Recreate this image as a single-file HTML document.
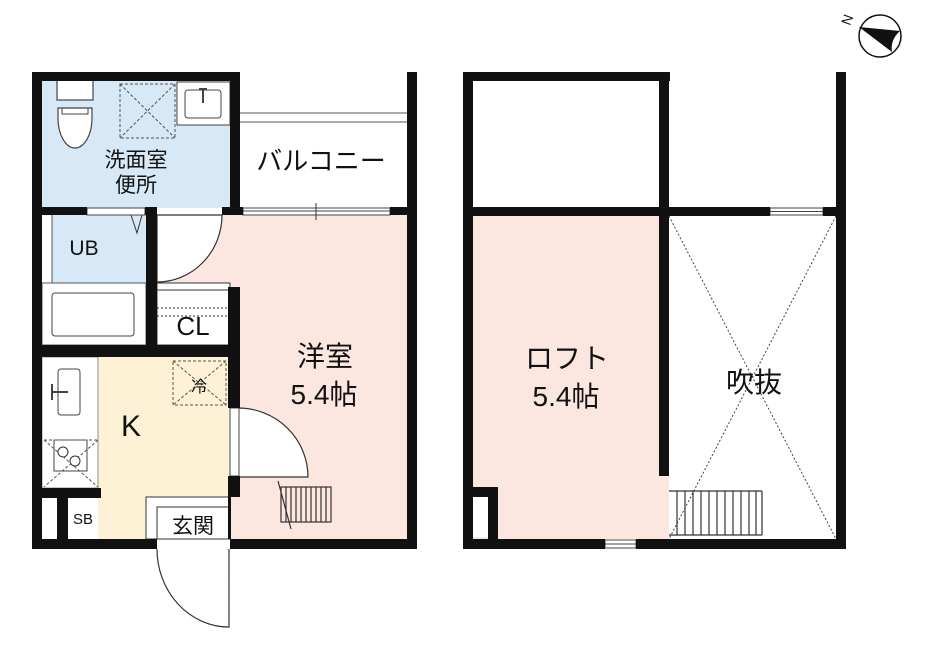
<!DOCTYPE html>
<html><head><meta charset="utf-8"><style>
html,body{margin:0;padding:0;background:#fff;}
svg{display:block}
text{font-family:"Liberation Sans","Noto Sans CJK JP",sans-serif;fill:#111;}
</style></head><body>
<svg width="926" height="648" viewBox="0 0 926 648" xmlns="http://www.w3.org/2000/svg">
<rect x="42" y="80" width="188" height="128" fill="#d7e9f6"/>
<rect x="52" y="215" width="94" height="68" fill="#d7e9f6"/>
<rect x="157" y="215" width="250" height="324" fill="#fce6e0"/>
<rect x="98" y="357" width="132" height="182" fill="#fdf2d5"/>
<path d="M157 215 L222 215 A65 67 0 0 1 157 282 Z" fill="#fff" stroke="#333" stroke-width="1.2"/>
<rect x="157" y="283" width="73" height="62" fill="#fff" stroke="#333" stroke-width="1"/>
<line x1="157" y1="290" x2="230" y2="290" stroke="#333"/>
<line x1="157" y1="308" x2="230" y2="308" stroke="#333" stroke-dasharray="2,2"/>
<line x1="157" y1="316" x2="230" y2="316" stroke="#333" stroke-dasharray="2,2"/>
<line x1="240" y1="113" x2="407" y2="113" stroke="#555"/>
<line x1="240" y1="122" x2="407" y2="122" stroke="#555"/>
<rect x="57" y="80" width="36" height="20" fill="#fff" stroke="#444" stroke-width="1.2"/>
<path d="M58 108 L92 108 L92 118 A17 30 0 0 1 58 118 Z" fill="#fff" stroke="#444" stroke-width="1.2"/>
<path d="M62 108 L62 114 L88 114 L88 108" fill="none" stroke="#444"/>
<rect x="120" y="84" width="55" height="54" fill="none" stroke="#555" stroke-dasharray="3,2"/>
<line x1="120" y1="84" x2="175" y2="138" stroke="#555" stroke-dasharray="3,2"/>
<line x1="175" y1="84" x2="120" y2="138" stroke="#555" stroke-dasharray="3,2"/>
<rect x="177" y="82" width="53" height="43" fill="#fff" stroke="#444"/>
<rect x="185" y="90" width="36" height="28" rx="3" fill="#fff" stroke="#444"/>
<line x1="199" y1="89" x2="207" y2="89" stroke="#444" stroke-width="2"/><line x1="203" y1="89" x2="203" y2="103" stroke="#444" stroke-width="2"/>
<line x1="52" y1="215" x2="52" y2="283" stroke="#555"/>
<path d="M131 215 L137 233 L142 215" fill="none" stroke="#333"/>
<rect x="42" y="283" width="104" height="62" fill="#fff" stroke="#555"/>
<rect x="52" y="293" width="82" height="43" rx="3" fill="#fff" stroke="#444"/>
<rect x="42" y="357" width="56" height="131" fill="#fff" stroke="#777" stroke-width="0.8"/>
<rect x="58" y="369" width="22" height="46" rx="3" fill="#fff" stroke="#444"/>
<path d="M52 384 L52 400 M52 392 L68 392" stroke="#444" stroke-width="2"/>
<rect x="54" y="440" width="33" height="31" fill="#fff" stroke="#444"/>
<path d="M44 440 L98 487 M98 440 L44 487" stroke="#555" stroke-dasharray="3,2"/>
<line x1="44" y1="440" x2="98" y2="440" stroke="#555" stroke-dasharray="3,2"/>
<circle cx="63" cy="452" r="5" fill="#fff" stroke="#333"/><circle cx="75" cy="461" r="5" fill="#fff" stroke="#333"/>
<rect x="173" y="361" width="53" height="44" fill="none" stroke="#555" stroke-dasharray="3,2"/>
<path d="M173 361 L226 405 M226 361 L173 405" stroke="#555" stroke-dasharray="3,2"/>
<rect x="146" y="497" width="84" height="42" fill="#fff" stroke="#333"/>
<rect x="157" y="507" width="73" height="32" fill="#fff" stroke="#333"/>
<path d="M157 549 A72 78 0 0 0 229 627 L229 549" fill="#fff" stroke="#333" stroke-width="1.2"/>
<path d="M238 477 L238 408 A70 69 0 0 1 308 477 Z" fill="#fff" stroke="#333" stroke-width="1.2"/>
<rect x="230" y="408" width="9" height="68" fill="#fff" stroke="#444"/>
<g stroke="#333" stroke-width="1.2" fill="none">
<rect x="281" y="487" width="50" height="35"/>
<path d="M286 487v35M291 487v35M296 487v35M301 487v35M306 487v35M311 487v35M316 487v35M321 487v35M326 487v35"/>
<line x1="278" y1="481" x2="291" y2="529"/>
</g>
<rect x="243" y="208" width="147" height="7" fill="#fff" stroke="#444"/>
<line x1="243" y1="211" x2="390" y2="211" stroke="#444"/>
<line x1="316" y1="203" x2="316" y2="220" stroke="#333"/>
<rect x="87" y="208" width="58" height="7" fill="#fff" stroke="#444"/>
<g fill="#111">
<rect x="32" y="72" width="208" height="9"/>
<rect x="32" y="72" width="10" height="477"/>
<rect x="32" y="539" width="125" height="10"/>
<rect x="230" y="539" width="187" height="10"/>
<rect x="407" y="72" width="10" height="477"/>
<rect x="230" y="72" width="10" height="143"/>
<rect x="42" y="207" width="45" height="8"/>
<rect x="145" y="207" width="12" height="8"/>
<rect x="222" y="207" width="21" height="8"/>
<rect x="390" y="207" width="17" height="8"/>
<rect x="146" y="207" width="11" height="150"/>
<rect x="32" y="345" width="208" height="12"/>
<rect x="228" y="287" width="12" height="121"/>
<rect x="228" y="476" width="12" height="21"/>
<rect x="228" y="497" width="3" height="42"/>
<rect x="42" y="488" width="59" height="10"/>
<rect x="57" y="498" width="11" height="41"/>
</g>
<text x="136" y="167" font-size="21" text-anchor="middle">洗面室</text>
<text x="136" y="192" font-size="21" text-anchor="middle">便所</text>
<text x="321" y="170" font-size="26" text-anchor="middle">バルコニー</text>
<text x="84" y="255" font-size="21" text-anchor="middle">UB</text>
<text x="193" y="335" font-size="26" text-anchor="middle">CL</text>
<text x="199" y="392" font-size="16" text-anchor="middle">冷</text>
<text x="131" y="436" font-size="30" text-anchor="middle">K</text>
<text x="83" y="524" font-size="15" text-anchor="middle">SB</text>
<text x="193" y="533" font-size="21" text-anchor="middle">玄関</text>
<text x="325" y="366" font-size="28" text-anchor="middle">洋室</text>
<text x="324" y="404" font-size="28" text-anchor="middle">5.4帖</text>
<rect x="473" y="216" width="186" height="323" fill="#fce6e0"/>
<rect x="659" y="476" width="10" height="63" fill="#fce6e0"/>
<g stroke="#444" stroke-width="1" stroke-dasharray="2,2">
<line x1="669" y1="216" x2="836" y2="539"/>
<line x1="836" y1="216" x2="669" y2="539"/>
</g>
<g stroke="#333" stroke-width="1.2" fill="none">
<path d="M669 491 H762 M669 535 H762 M762 491 V535"/>
<path d="M677 491v44M685 491v44M693 491v44M701 491v44M709 491v44M717 491v44M725 491v44M733 491v44M741 491v44M749 491v44M756 491v44"/>
</g>
<rect x="770" y="208" width="53" height="7" fill="#fff" stroke="#444"/>
<line x1="770" y1="211.5" x2="823" y2="211.5" stroke="#444"/>
<rect x="605" y="540" width="31" height="8" fill="#fff" stroke="#444"/>
<line x1="605" y1="544" x2="636" y2="544" stroke="#444"/>
<g fill="#111">
<rect x="463" y="72" width="207" height="9"/>
<rect x="463" y="72" width="10" height="477"/>
<rect x="463" y="539" width="142" height="10"/>
<rect x="636" y="539" width="210" height="10"/>
<rect x="836" y="72" width="10" height="477"/>
<rect x="659" y="72" width="10" height="404"/>
<rect x="463" y="207" width="307" height="9"/>
<rect x="823" y="207" width="23" height="9"/>
<rect x="463" y="487" width="35" height="10"/>
<rect x="488" y="487" width="10" height="52"/>
</g>
<rect x="473" y="497" width="15" height="40" fill="#fff"/>
<text x="567" y="368" font-size="28" text-anchor="middle">ロフト</text>
<text x="566" y="406" font-size="28" text-anchor="middle">5.4帖</text>
<text x="754" y="392" font-size="28" text-anchor="middle">吹抜</text>
<circle cx="880" cy="36" r="21" fill="#fff" stroke="#111" stroke-width="1.5"/>
<path d="M859 27 L900 31 Q890 40 892 52 Z" fill="#111"/>
<text x="848" y="24" font-size="14" transform="rotate(-70 848 20)" text-anchor="middle">N</text>
</svg>
</body></html>
